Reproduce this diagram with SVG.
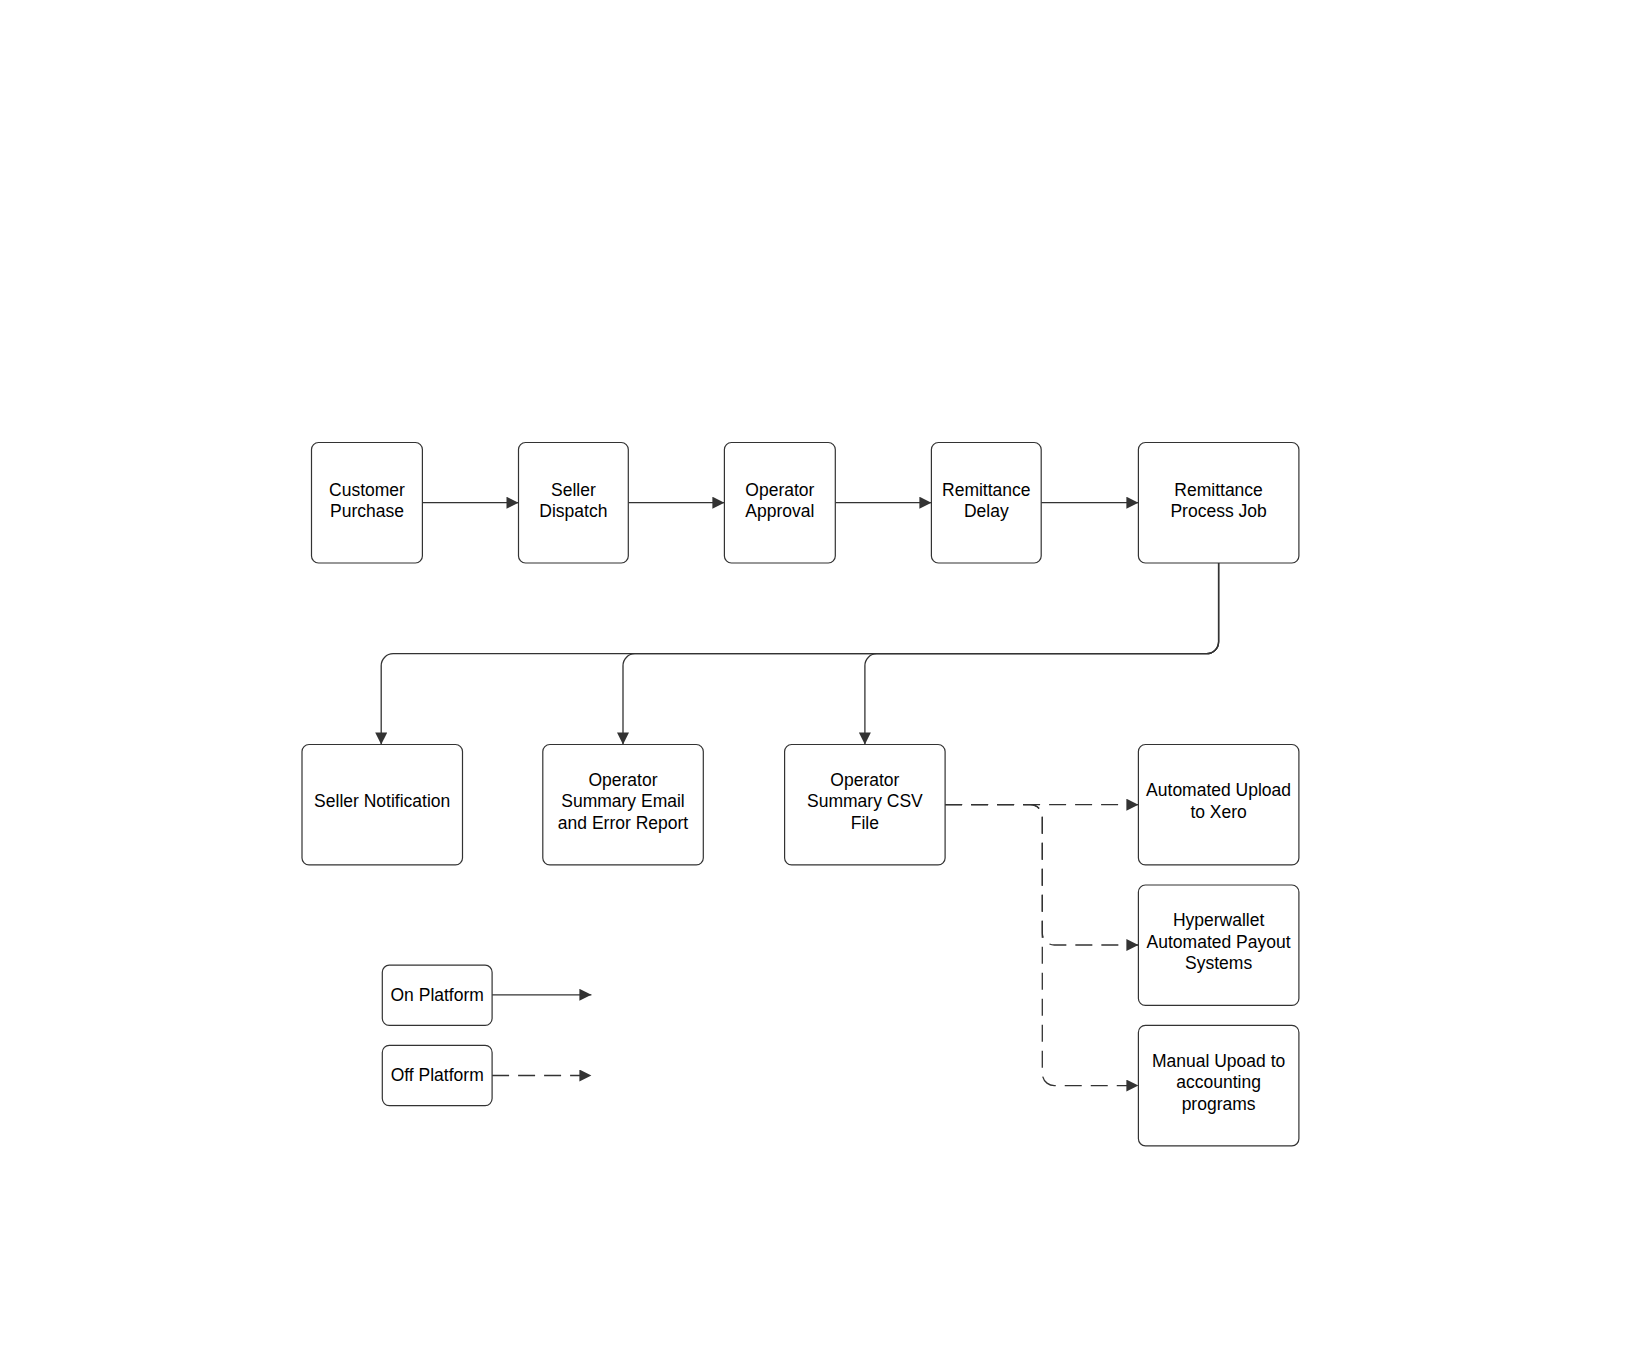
<svg xmlns="http://www.w3.org/2000/svg" width="1647" height="1360" viewBox="0 0 1647 1360">
<defs>
<marker id="a" viewBox="0 0 10 10" refX="10" refY="5" markerWidth="17" markerHeight="12" markerUnits="userSpaceOnUse" orient="auto"><path d="M0,0L10,5L0,10z" fill="#333"/></marker>
<style>
.n rect{fill:#fff;stroke:#333;stroke-width:1.2}
.n text{font-family:"Liberation Sans",Arial,sans-serif;font-size:17.5px;fill:#000;text-anchor:middle}
.c path{fill:none;stroke:#333;stroke-width:1.3;marker-end:url(#a)}
.c .d{stroke-dasharray:17,9}
</style>
</defs>
<rect width="1647" height="1360" fill="#fff"/>
<g class="c">
<path d="M422.4,502.7H518.5"/>
<path d="M628.3,502.7H724.4"/>
<path d="M835.3,502.7H931.4"/>
<path d="M1041.2,502.7H1138.4"/>
<path d="M1218.6,563V641.7a12,12 0 0 1 -12,12H393.2a12,12 0 0 0 -12,12V744.5"/>
<path d="M1218.6,563V641.7a12,12 0 0 1 -12,12H635a12,12 0 0 0 -12,12V744.5"/>
<path d="M1218.6,563V641.7a12,12 0 0 1 -12,12H876.9a12,12 0 0 0 -12,12V744.5"/>
<path class="d" d="M945.1,804.7H1138.4"/>
<path class="d" d="M945.1,804.7H1030.3a12,12 0 0 1 12,12V933a12,12 0 0 0 12,12H1138.4"/>
<path class="d" d="M945.1,804.7H1030.3a12,12 0 0 1 12,12V1073.6a12,12 0 0 0 12,12H1138.4"/>
<path d="M492.1,994.8H591.4"/>
<path class="d" d="M492.1,1075.5H591.4"/>
</g>
<g id="customer" class="n"><rect x="311.5" y="442.5" width="110.9" height="120.5" rx="7"/><text x="367" y="495.5">Customer</text><text x="367" y="517">Purchase</text></g>
<g id="seller-dispatch" class="n"><rect x="518.5" y="442.5" width="109.8" height="120.5" rx="7"/><text x="573.4" y="495.5">Seller</text><text x="573.4" y="517">Dispatch</text></g>
<g id="operator-approval" class="n"><rect x="724.4" y="442.5" width="110.9" height="120.5" rx="7"/><text x="779.9" y="495.5">Operator</text><text x="779.9" y="517">Approval</text></g>
<g id="remittance-delay" class="n"><rect x="931.4" y="442.5" width="109.8" height="120.5" rx="7"/><text x="986.3" y="495.5">Remittance</text><text x="986.3" y="517">Delay</text></g>
<g id="remittance-job" class="n"><rect x="1138.4" y="442.5" width="160.5" height="120.5" rx="7"/><text x="1218.6" y="495.5">Remittance</text><text x="1218.6" y="517">Process Job</text></g>
<g id="seller-notification" class="n"><rect x="302" y="744.5" width="160.5" height="120.4" rx="7"/><text x="382.2" y="807">Seller Notification</text></g>
<g id="operator-email" class="n"><rect x="542.8" y="744.5" width="160.5" height="120.4" rx="7"/><text x="623" y="785.5">Operator</text><text x="623" y="807">Summary Email</text><text x="623" y="828.5">and Error Report</text></g>
<g id="operator-csv" class="n"><rect x="784.6" y="744.5" width="160.5" height="120.4" rx="7"/><text x="864.9" y="785.5">Operator</text><text x="864.9" y="807">Summary CSV</text><text x="864.9" y="828.5">File</text></g>
<g id="xero" class="n"><rect x="1138.4" y="744.5" width="160.5" height="120.4" rx="7"/><text x="1218.6" y="796">Automated Upload</text><text x="1218.6" y="817.5">to Xero</text></g>
<g id="hyperwallet" class="n"><rect x="1138.4" y="885" width="160.5" height="120.4" rx="7"/><text x="1218.6" y="926">Hyperwallet</text><text x="1218.6" y="947.5">Automated Payout</text><text x="1218.6" y="969">Systems</text></g>
<g id="manual" class="n"><rect x="1138.4" y="1025.4" width="160.5" height="120.4" rx="7"/><text x="1218.6" y="1066.5">Manual Upoad to</text><text x="1218.6" y="1088">accounting</text><text x="1218.6" y="1109.5">programs</text></g>
<g id="legend-on" class="n"><rect x="382.3" y="965.2" width="109.8" height="60.2" rx="7"/><text x="437.2" y="1000.8">On Platform</text></g>
<g id="legend-off" class="n"><rect x="382.3" y="1045.4" width="109.8" height="60.2" rx="7"/><text x="437.2" y="1080.8">Off Platform</text></g>
</svg>
